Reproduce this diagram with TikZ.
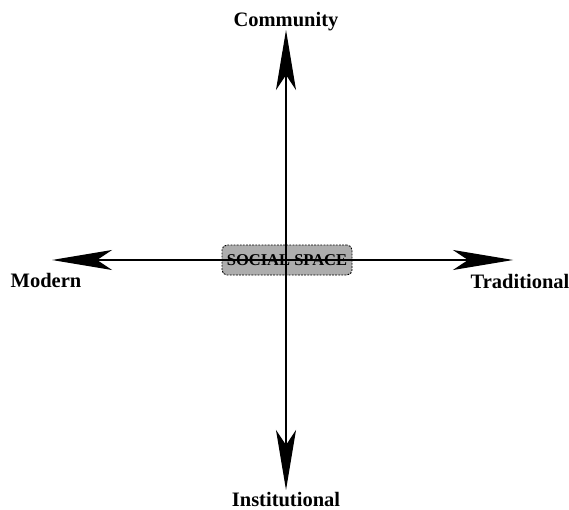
\documentclass[tikz,border=0pt]{standalone}
\usepackage{fontspec}
\setmainfont{Liberation Serif}
\usetikzlibrary{arrows.meta,positioning}

\begin{document}
\begin{tikzpicture}[x=1pt,y=1pt,>={Stealth[length=60pt,width=20pt,inset=15pt]},font=\bfseries,
  axis/.style={line width=1.4pt,<->},
  pole/.style={anchor=base,inner sep=0pt,font=\fontsize{20.5}{22}\selectfont\bfseries},
  space/.style={draw,fill=black!32,rounded corners=5pt,line width=0.9pt,dash pattern=on 1.8pt off 1.3pt,
    minimum width=130pt,minimum height=30pt,inner sep=0pt,font=\fontsize{16.5}{18}\selectfont\bfseries}]
  \useasboundingbox (0,0) rectangle (569,509);
  \node[space] (social) at (287,249) {SOCIAL SPACE};
  \coordinate (top) at (286,479);
  \coordinate (bot) at (286,19);
  \coordinate (left) at (52,249);
  \coordinate (right) at (513,249);
  \draw[axis] (top) -- (bot);
  \draw[axis] (left) -- (right);
  \node[pole] (community) at (286,482) {Community};
  \node[pole] (institutional) at (286,3) {Institutional};
  \node[pole] (modern) at (46,222) {Modern};
  \node[pole] (traditional) at (520,221) {Traditional};
\end{tikzpicture}
\end{document}
